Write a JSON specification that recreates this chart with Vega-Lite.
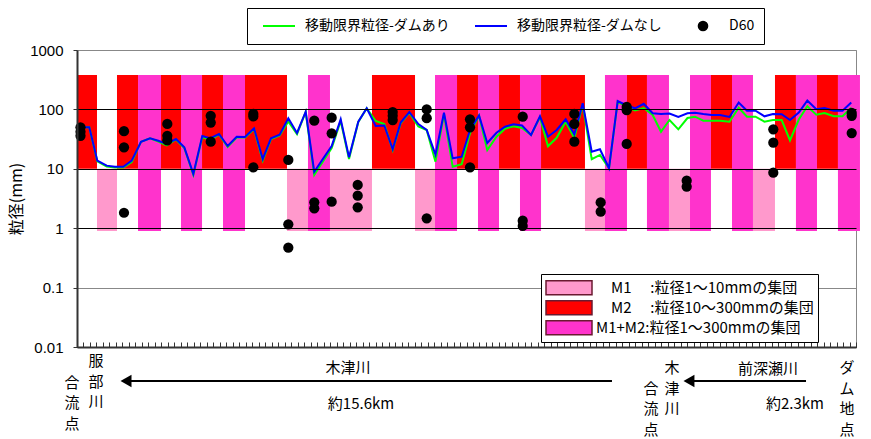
{
  "$schema": "https://vega.github.io/schema/vega-lite/v6.json",
  "width": 779,
  "height": 297,
  "autosize": "none",
  "padding": {"left": 77, "top": 50, "right": 15, "bottom": 92},
  "background": "white",
  "config": {"view": {"stroke": "#888", "strokeWidth": 1}, "font": "Noto Sans CJK JP"},
  "datasets": {
    "bands": [
      {"x": 0, "x2": 3.08, "g": "M2", "lo": 10, "hi": 380},
      {"x": 3.08, "x2": 6.16, "g": "M1", "lo": 0.9, "hi": 10},
      {"x": 6.16, "x2": 9.4, "g": "M2", "lo": 10, "hi": 380},
      {"x": 9.4, "x2": 12.94, "g": "M12", "lo": 0.9, "hi": 380},
      {"x": 12.94, "x2": 16.02, "g": "M2", "lo": 10, "hi": 380},
      {"x": 16.02, "x2": 19.26, "g": "M12", "lo": 0.9, "hi": 380},
      {"x": 19.26, "x2": 22.49, "g": "M2", "lo": 10, "hi": 380},
      {"x": 22.49, "x2": 25.88, "g": "M12", "lo": 0.9, "hi": 380},
      {"x": 25.88, "x2": 32.35, "g": "M2", "lo": 10, "hi": 380},
      {"x": 32.35, "x2": 35.58, "g": "M1", "lo": 0.9, "hi": 10},
      {"x": 35.58, "x2": 38.97, "g": "M12", "lo": 0.9, "hi": 380},
      {"x": 38.97, "x2": 45.44, "g": "M1", "lo": 0.9, "hi": 10},
      {"x": 45.44, "x2": 52.07, "g": "M2", "lo": 10, "hi": 380},
      {"x": 52.07, "x2": 55.15, "g": "M1", "lo": 0.9, "hi": 10},
      {"x": 55.15, "x2": 58.54, "g": "M12", "lo": 0.9, "hi": 380},
      {"x": 58.54, "x2": 61.77, "g": "M2", "lo": 10, "hi": 380},
      {"x": 61.77, "x2": 65.01, "g": "M12", "lo": 0.9, "hi": 380},
      {"x": 65.01, "x2": 68.24, "g": "M2", "lo": 10, "hi": 380},
      {"x": 68.24, "x2": 71.48, "g": "M12", "lo": 0.9, "hi": 380},
      {"x": 71.48, "x2": 78.25, "g": "M2", "lo": 10, "hi": 380},
      {"x": 78.25, "x2": 81.33, "g": "M1", "lo": 0.9, "hi": 10},
      {"x": 81.33, "x2": 84.72, "g": "M12", "lo": 0.9, "hi": 380},
      {"x": 84.72, "x2": 87.8, "g": "M2", "lo": 10, "hi": 380},
      {"x": 87.8, "x2": 91.19, "g": "M12", "lo": 0.9, "hi": 380},
      {"x": 91.19, "x2": 94.43, "g": "M1", "lo": 0.9, "hi": 10},
      {"x": 94.43, "x2": 97.66, "g": "M12", "lo": 0.9, "hi": 380},
      {"x": 97.66, "x2": 100.9, "g": "M2", "lo": 10, "hi": 380},
      {"x": 100.9, "x2": 104.13, "g": "M12", "lo": 0.9, "hi": 380},
      {"x": 104.13, "x2": 107.52, "g": "M1", "lo": 0.9, "hi": 10},
      {"x": 107.52, "x2": 110.75, "g": "M2", "lo": 10, "hi": 380},
      {"x": 110.75, "x2": 113.99, "g": "M12", "lo": 0.9, "hi": 380},
      {"x": 113.99, "x2": 117.22, "g": "M2", "lo": 10, "hi": 380},
      {"x": 117.22, "x2": 120.61, "g": "M12", "lo": 0.9, "hi": 380}
    ],
    "lines": [
      {"x": 0, "移動限界粒径-ダムあり": 50, "移動限界粒径-ダムなし": 50},
      {"x": 1.89, "移動限界粒径-ダムあり": 50, "移動限界粒径-ダムなし": 50},
      {"x": 3.13, "移動限界粒径-ダムあり": 13.3, "移動限界粒径-ダムなし": 13.7},
      {"x": 4.58, "移動限界粒径-ダムあり": 10.9, "移動限界粒径-ダムなし": 11.3},
      {"x": 5.85, "移動限界粒径-ダムあり": 10.5, "移動限界粒径-ダムなし": 10.8},
      {"x": 7.13, "移動限界粒径-ダムあり": 10.5, "移動限界粒径-ダムなし": 10.8},
      {"x": 8.43, "移動限界粒径-ダムあり": 13.0, "移動限界粒径-ダムなし": 13.7},
      {"x": 9.86, "移動限界粒径-ダムあり": 28.6, "移動限界粒径-ダムなし": 28.6},
      {"x": 11.25, "移動限界粒径-ダムあり": 32.6, "移動限界粒径-ダムなし": 32.6},
      {"x": 12.52, "移動限界粒径-ダムあり": 28.8, "移動限界粒径-ダムなし": 29.7},
      {"x": 13.82, "移動限界粒径-ダムあり": 24.7, "移動限界粒径-ダムなし": 26.2},
      {"x": 15.25, "移動限界粒径-ダムあり": 31.1, "移動限界粒径-ダムなし": 31.7},
      {"x": 16.53, "移動限界粒径-ダムあり": 22.4, "移動限界粒径-ダムなし": 23.0},
      {"x": 17.92, "移動限界粒径-ダムあり": 7.9, "移動限界粒径-ダムなし": 8.2},
      {"x": 19.3, "移動限界粒径-ダムあり": 34.3, "移動限界粒径-ダムなし": 35.7},
      {"x": 20.49, "移動限界粒径-ダムあり": 30.5, "移動限界粒径-ダムなし": 32.6},
      {"x": 21.87, "移動限界粒径-ダムあり": 37.8, "移動限界粒径-ダムなし": 38.5},
      {"x": 23.21, "移動限界粒径-ダムあり": 23.3, "移動限界粒径-ダムなし": 24.2},
      {"x": 24.6, "移動限界粒径-ダムあり": 33.6, "移動限界粒径-ダムなし": 34.7},
      {"x": 25.88, "移動限界粒径-ダムあり": 33.6, "移動限界粒径-ダムなし": 34.3},
      {"x": 27.27, "移動限界粒径-ダムあり": 46.8, "移動限界粒径-ダムなし": 48.1},
      {"x": 28.61, "移動限界粒径-ダムあり": 13.8, "移動限界粒径-ダムなし": 14.6},
      {"x": 29.88, "移動限界粒径-ダムあり": 31.7, "移動限界粒径-ダムなし": 32.6},
      {"x": 31.22, "移動限界粒径-ダムあり": 36.4, "移動限界粒径-ダムなし": 37.5},
      {"x": 32.55, "移動限界粒径-ダムあり": 62.6, "移動限界粒径-ダムなし": 70.8},
      {"x": 33.89, "移動限界粒径-ダムあり": 38.5, "移動限界粒径-ダムなし": 40.1},
      {"x": 35.23, "移動限界粒径-ダムあり": 90.4, "移動限界粒径-ダムなし": 91.5},
      {"x": 36.55, "移動限界粒径-ダムあり": 7.9, "移動限界粒径-ダムなし": 8.9},
      {"x": 37.94, "移動限界粒径-ダムあり": 13.5, "移動限界粒径-ダムなし": 15.0},
      {"x": 39.23, "移動限界粒径-ダムあり": 22.4, "移動限界粒径-ダムなし": 24.2},
      {"x": 40.62, "移動限界粒径-ダムあり": 63.8, "移動限界粒径-ダムなし": 68.1},
      {"x": 41.9, "移動限界粒径-ダムあり": 14.6, "移動限界粒径-ダムなし": 15.6},
      {"x": 43.33, "移動限界粒径-ダムあり": 61.4, "移動限界粒径-ダムなし": 62.1},
      {"x": 44.63, "移動限界粒径-ダムあり": 104.3, "移動限界粒径-ダムなし": 104.3},
      {"x": 46.01, "移動限界粒径-ダムあり": 63.8, "移動限界粒径-ダムなし": 52.5},
      {"x": 47.34, "移動限界粒径-ダムあり": 56.8, "移動限界粒径-ダムなし": 53.6},
      {"x": 48.63, "移動限界粒径-ダムあり": 20.7, "移動限界粒径-ダムなし": 21.3},
      {"x": 49.86, "移動限界粒径-ダムあり": 58.3, "移動限界粒径-ダムなし": 60.2},
      {"x": 51.19, "移動限界粒径-ダムあり": 88.0, "移動限界粒径-ダムなし": 90.4},
      {"x": 52.58, "移動限界粒径-ダムあり": 51.5, "移動限界粒径-ダムなし": 56.8},
      {"x": 53.87, "移動限界粒径-ダムあり": 45.0, "移動限界粒径-ダムなし": 45.0},
      {"x": 55.22, "移動限界粒径-ダムあり": 13.2, "移動限界粒径-ダムなし": 17.3},
      {"x": 56.53, "移動限界粒径-ダムあり": 83.7, "移動限界粒径-ダムなし": 88.0},
      {"x": 57.87, "移動限界粒径-ダムあり": 10.8, "移動限界粒径-ダムなし": 15.0},
      {"x": 59.26, "移動限界粒径-ダムあり": 12.0, "移動限界粒径-ダムなし": 16.0},
      {"x": 60.54, "移動限界粒径-ダムあり": 39.6, "移動限界粒径-ダムなし": 45.0},
      {"x": 61.93, "移動限界粒径-ダムあり": 78.9, "移動限界粒径-ダムなし": 78.9},
      {"x": 63.2, "移動限界粒径-ダムあり": 20.7, "移動限界粒径-ダムなし": 27.2},
      {"x": 64.62, "移動限界粒径-ダムあり": 34.7, "移動限界粒径-ダムなし": 40.5},
      {"x": 65.93, "移動限界粒径-ダムあり": 47.3, "移動限界粒径-ダムなし": 51.1},
      {"x": 67.24, "移動限界粒径-ダムあり": 52.1, "移動限界粒径-ダムなし": 56.3},
      {"x": 68.55, "移動限界粒径-ダムあり": 48.6, "移動限界粒径-ダムなし": 53.6},
      {"x": 69.94, "移動限界粒径-ダムあり": 37.1, "移動限界粒径-ダムなし": 37.1},
      {"x": 71.32, "移動限界粒径-ダムあり": 73.6, "移動限界粒径-ダムなし": 76.5},
      {"x": 72.55, "移動限界粒径-ダムあり": 23.9, "移動限界粒径-ダムなし": 34.7},
      {"x": 73.89, "移動限界粒径-ダムあり": 33.3, "移動限界粒径-ダムなし": 45.0},
      {"x": 75.28, "移動限界粒径-ダムあり": 62.1, "移動限界粒径-ダムなし": 68.1},
      {"x": 76.61, "移動限界粒径-ダムあり": 33.0, "移動限界粒径-ダムなし": 37.8},
      {"x": 77.9, "移動限界粒径-ダムあり": 120.9, "移動限界粒径-ダムなし": 126.7},
      {"x": 79.29, "移動限界粒径-ダムあり": 14.5, "移動限界粒径-ダムなし": 19.4},
      {"x": 80.56, "移動限界粒径-ダムあり": 17.1, "移動限界粒径-ダムなし": 21.3},
      {"x": 81.95, "移動限界粒径-ダムあり": 10.2, "移動限界粒径-ダムなし": 10.2},
      {"x": 83.29, "移動限界粒径-ダムあり": 134, "移動限界粒径-ダムなし": 138.5},
      {"x": 84.68, "移動限界粒径-ダムあり": 111.1, "移動限界粒径-ダムなし": 116.3},
      {"x": 85.96, "移動限界粒径-ダムあり": 95.8, "移動限界粒径-ダムなし": 104.3},
      {"x": 87.3, "移動限界粒径-ダムあり": 105.6, "移動限界粒径-ダムなし": 124},
      {"x": 88.68, "移動限界粒径-ダムあり": 80.5, "移動限界粒径-ダムなし": 86.0},
      {"x": 89.96, "移動限界粒径-ダムあり": 42.1, "移動限界粒径-ダムなし": 83.7},
      {"x": 91.27, "移動限界粒径-ダムあり": 66.3, "移動限界粒径-ダムなし": 85.3},
      {"x": 92.63, "移動限界粒径-ダムあり": 46.2, "移動限界粒径-ダムなし": 74.5},
      {"x": 94.04, "移動限界粒径-ダムあり": 71.6, "移動限界粒径-ダムなし": 86.0},
      {"x": 95.2, "移動限界粒径-ダムあり": 75.4, "移動限界粒径-ダムなし": 88.0},
      {"x": 96.48, "移動限界粒径-ダムあり": 64.5, "移動限界粒径-ダムなし": 83.7},
      {"x": 97.77, "移動限界粒径-ダムあり": 64.5, "移動限界粒径-ダムなし": 80.5},
      {"x": 99.05, "移動限界粒径-ダムあり": 64.5, "移動限界粒径-ダムなし": 80.5},
      {"x": 100.51, "移動限界粒径-ダムあり": 62.1, "移動限界粒径-ダムなし": 74.5},
      {"x": 101.93, "移動限界粒径-ダムあり": 106.8, "移動限界粒径-ダムなし": 130.7},
      {"x": 103.21, "移動限界粒径-ダムあり": 75.4, "移動限界粒径-ダムなし": 95.1},
      {"x": 104.52, "移動限界粒径-ダムあり": 75.4, "移動限界粒径-ダムなし": 95.1},
      {"x": 105.9, "移動限界粒径-ダムあり": 62.1, "移動限界粒径-ダムなし": 76.5},
      {"x": 107.21, "移動限界粒径-ダムあり": 66.3, "移動限界粒径-ダムなし": 83.7},
      {"x": 108.55, "移動限界粒径-ダムあり": 66.3, "移動限界粒径-ダムなし": 83.0},
      {"x": 109.83, "移動限界粒径-ダムあり": 30.2, "移動限界粒径-ダムなし": 66.3},
      {"x": 111.19, "移動限界粒径-ダムあり": 67.6, "移動限界粒径-ダムなし": 88.7},
      {"x": 112.5, "移動限界粒径-ダムあり": 112.8, "移動限界粒径-ダムなし": 141},
      {"x": 113.88, "移動限界粒径-ダムあり": 81.4, "移動限界粒径-ダムなし": 100.4},
      {"x": 115.15, "移動限界粒径-ダムあり": 87.0, "移動限界粒径-ダムなし": 105.6},
      {"x": 116.57, "移動限界粒径-ダムあり": 76.5, "移動限界粒径-ダムなし": 94.7},
      {"x": 117.92, "移動限界粒径-ダムあり": 76.5, "移動限界粒径-ダムなし": 94.7},
      {"x": 119.27, "移動限界粒径-ダムあり": 106.8, "移動限界粒径-ダムなし": 130.7}
    ],
    "d60": [
      {"x": 0.54, "d": 50}, {"x": 0.54, "d": 42}, {"x": 0.54, "d": 36},
      {"x": 7.24, "d": 43}, {"x": 7.24, "d": 23}, {"x": 7.24, "d": 1.82},
      {"x": 13.91, "d": 57}, {"x": 13.91, "d": 36}, {"x": 13.91, "d": 30},
      {"x": 20.6, "d": 78}, {"x": 20.6, "d": 60}, {"x": 20.6, "d": 28.6},
      {"x": 27.16, "d": 84}, {"x": 27.16, "d": 76}, {"x": 27.16, "d": 10.6},
      {"x": 32.55, "d": 14.1}, {"x": 32.55, "d": 1.16}, {"x": 32.55, "d": 0.47},
      {"x": 36.55, "d": 64.5}, {"x": 36.55, "d": 2.73}, {"x": 36.55, "d": 2.16},
      {"x": 39.23, "d": 72.6}, {"x": 39.23, "d": 39.6}, {"x": 39.23, "d": 2.79},
      {"x": 43.24, "d": 5.34}, {"x": 43.24, "d": 3.53}, {"x": 43.24, "d": 2.25},
      {"x": 48.63, "d": 90}, {"x": 48.63, "d": 78}, {"x": 48.63, "d": 66},
      {"x": 53.87, "d": 100}, {"x": 53.87, "d": 71}, {"x": 53.87, "d": 1.47},
      {"x": 60.54, "d": 68}, {"x": 60.54, "d": 50}, {"x": 60.54, "d": 10.6},
      {"x": 68.66, "d": 75.4}, {"x": 68.66, "d": 1.34}, {"x": 68.66, "d": 1.09},
      {"x": 76.61, "d": 84}, {"x": 76.61, "d": 57}, {"x": 76.61, "d": 28.6},
      {"x": 80.67, "d": 2.71}, {"x": 80.67, "d": 1.9},
      {"x": 84.68, "d": 110}, {"x": 84.68, "d": 97}, {"x": 84.68, "d": 26.2},
      {"x": 93.92, "d": 6.3}, {"x": 93.92, "d": 5.0},
      {"x": 107.26, "d": 46.2}, {"x": 107.26, "d": 27.5}, {"x": 107.26, "d": 8.6},
      {"x": 119.34, "d": 87}, {"x": 119.34, "d": 78}, {"x": 119.34, "d": 40}
    ],
    "notes": [
      {"x": 41.75, "y": 0.00443, "t": "木津川"},
      {"x": 106.44, "y": 0.00426, "t": "前深瀬川"},
      {"x": 43.75, "y": 0.0011, "t": "約15.6km"},
      {"x": 110.6, "y": 0.0011, "t": "約2.3km"}
    ],
    "vnotes": [
      {"x": 2.93, "y": 0.00762, "t": "服\n部\n川"},
      {"x": -0.77, "y": 0.00325, "t": "合\n流\n点"},
      {"x": 91.65, "y": 0.0058, "t": "木\n津\n川"},
      {"x": 88.42, "y": 0.0026, "t": "合\n流\n点"},
      {"x": 118.61, "y": 0.0058, "t": "ダ\nム\n地\n点"}
    ],
    "arrows": [
      {"x": 7.55, "x2": 82.41, "y": 0.002677},
      {"x": 94.27, "x2": 112.3, "y": 0.002677}
    ]
  },
  "layer": [
    {
      "data": {"name": "bands"},
      "mark": {"type": "rect", "strokeWidth": 0},
      "encoding": {
        "x": {"field": "x", "type": "quantitative",
          "scale": {"domain": [0, 120], "nice": false, "zero": false},
          "axis": {"title": null, "labels": false, "ticks": true, "tickCount": 120, "tickSize": -5, "tickWidth": 1, "tickColor": "#333", "domainColor": "#333", "domainWidth": 2, "grid": false, "zindex": 1}},
        "x2": {"field": "x2"},
        "y": {"field": "lo", "type": "quantitative",
          "scale": {"type": "log", "domain": [0.01, 1000], "nice": false},
          "axis": {"title": "粒径(mm)", "values": [0.01, 0.1, 1, 10, 100, 1000], "format": "~g",
            "labelFont": "Liberation Sans", "labelFontSize": 15, "labelColor": "#000", "labelPadding": 10,
            "tickSize": 4, "tickColor": "#333", "domainColor": "#333", "domainWidth": 2,
            "grid": true, "gridColor": {"condition": {"test": "datum.value == 0.1 || datum.value == 1000", "value": "#888"}, "value": "#000"}, "gridWidth": 1,
            "titleFont": "Noto Sans CJK JP", "titleFontSize": 16, "titleFontWeight": "normal", "titleColor": "#000", "titlePadding": 5, "zindex": 1}},
        "y2": {"field": "hi"},
        "fill": {"field": "g", "type": "nominal",
          "scale": {"domain": ["M1", "M2", "M12"], "range": ["#ff99cc", "#ff0000", "#ff33cc"]},
          "legend": {"title": null, "orient": "none", "legendX": 464, "legendY": 224, "direction": "vertical",
            "strokeColor": "#000", "fillColor": "#fff", "padding": 4, "zindex": 2,
            "symbolType": "M-1,-0.3H1V0.3H-1Z", "symbolSize": 2116, "symbolStrokeColor": "#6a1a30", "symbolStrokeWidth": 1.5, "symbolOpacity": 1,
            "clipHeight": 19.5, "rowPadding": 0, "labelOffset": 3,
            "labelFont": "Noto Sans CJK JP", "labelFontSize": 15, "labelColor": "#000", "labelLimit": 400,
            "labelExpr": "datum.value == 'M1' ? '\u200b\u3000M1\u3000\u2005:粒径1～10mmの集団' : datum.value == 'M2' ? '\u200b\u3000M2\u3000\u2005:粒径10～300mmの集団' : 'M1+M2:粒径1～300mmの集団'"}}
      }
    },
    {
      "data": {"name": "lines"},
      "transform": [{"fold": ["移動限界粒径-ダムあり", "移動限界粒径-ダムなし"], "as": ["s", "d"]}],
      "mark": {"type": "line", "strokeWidth": 2},
      "encoding": {
        "x": {"field": "x", "type": "quantitative"},
        "y": {"field": "d", "type": "quantitative"},
        "color": {"field": "s", "type": "nominal",
          "scale": {"domain": ["移動限界粒径-ダムあり", "移動限界粒径-ダムなし", "D60"], "range": ["#00ff00", "#0000ff", "#000000"]},
          "legend": {"title": null, "orient": "none", "legendX": 170, "legendY": -42, "direction": "horizontal", "columns": 3,
            "strokeColor": "#000", "fillColor": "#fff", "padding": 9, "zindex": 2,
            "symbolSize": 1024, "symbolOffset": 6, "labelOffset": 9, "columnPadding": 18, "clipHeight": 18,
            "labelFont": "Noto Sans CJK JP", "labelFontSize": 14, "labelColor": "#000", "labelLimit": 300,
            "encode": {"symbols": {"update": {
              "shape": {"signal": "datum.value === 'D60' ? 'M-0.27,0A0.27,0.27,0,1,1,0.27,0A0.27,0.27,0,1,1,-0.27,0Z' : 'M-1,0H1'"},
              "fill": {"signal": "datum.value === 'D60' ? '#000' : 'transparent'"},
              "stroke": {"signal": "datum.value === 'D60' ? 'transparent' : scale('color', datum.value)"},
              "strokeWidth": {"value": 2},
              "size": {"value": 1024},
              "opacity": {"value": 1}}}}}}
      }
    },
    {
      "data": {"name": "d60"},
      "mark": {"type": "point", "shape": "circle", "filled": true, "size": 105, "color": "#000", "opacity": 1},
      "encoding": {
        "x": {"field": "x", "type": "quantitative"},
        "y": {"field": "d", "type": "quantitative"}
      }
    },
    {
      "data": {"name": "arrows"},
      "mark": {"type": "rule", "strokeWidth": 2, "color": "#000"},
      "encoding": {
        "x": {"field": "x", "type": "quantitative"},
        "x2": {"field": "x2"},
        "y": {"field": "y", "type": "quantitative"}
      }
    },
    {
      "data": {"name": "arrows"},
      "mark": {"type": "point", "shape": "triangle-left", "filled": true, "size": 160, "color": "#000", "opacity": 1},
      "encoding": {
        "x": {"field": "x", "type": "quantitative"},
        "y": {"field": "y", "type": "quantitative"}
      }
    },
    {
      "data": {"name": "notes"},
      "mark": {"type": "text", "font": "Noto Sans CJK JP", "fontSize": 15, "align": "center", "baseline": "middle", "color": "#000"},
      "encoding": {
        "x": {"field": "x", "type": "quantitative"},
        "y": {"field": "y", "type": "quantitative"},
        "text": {"field": "t"}
      }
    },
    {
      "data": {"name": "vnotes"},
      "mark": {"type": "text", "font": "Noto Sans CJK JP", "fontSize": 15, "align": "center", "baseline": "top", "lineBreak": "\n", "lineHeight": 20.5, "color": "#000"},
      "encoding": {
        "x": {"field": "x", "type": "quantitative"},
        "y": {"field": "y", "type": "quantitative"},
        "text": {"field": "t"}
      }
    }
  ]
}
